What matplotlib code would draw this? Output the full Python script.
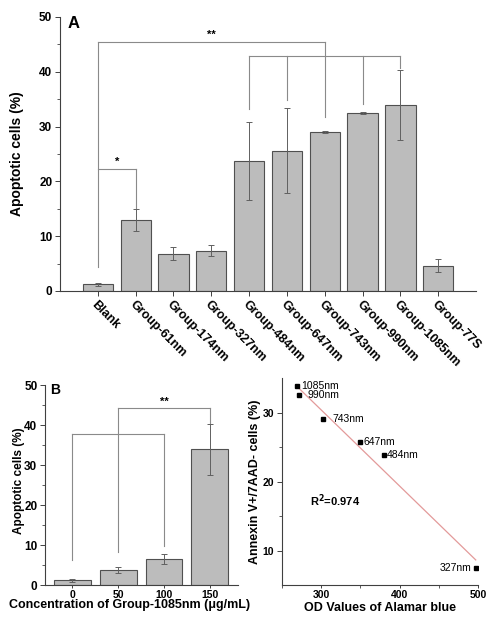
import matplotlib
matplotlib.use('Agg')
import matplotlib.pyplot as plt
import numpy as np
from matplotlib.ticker import MultipleLocator, FixedLocator

plt.rcParams['font.family'] = ['Liberation Sans', 'DejaVu Sans']
plt.rcParams['font.weight'] = 'bold'
plt.rcParams['axes.labelweight'] = 'bold'

# ---------------- data ----------------
groups = ['Blank', 'Group-61nm', 'Group-174nm', 'Group-327nm', 'Group-484nm',
          'Group-647nm', 'Group-743nm', 'Group-990nm', 'Group-1085nm', 'Group-77S']
a_vals = [1.2, 13.0, 6.8, 7.3, 23.7, 25.6, 29.0, 32.5, 33.9, 4.6]
a_err = [0.3, 2.0, 1.2, 1.0, 7.1, 7.7, 0.2, 0.2, 6.4, 1.2]

conc = [0, 50, 100, 150]
conc_labels = ['0', '50', '100', '150']
b_vals = [1.2, 3.7, 6.5, 33.9]
b_err = [0.4, 0.8, 1.2, 6.4]

od_vals = [269, 272, 303, 350, 380, 497]
annexin = [33.9, 32.5, 29.1, 25.7, 23.8, 7.4]
size_labels = ['1085nm', '990nm', '743nm', '647nm', '484nm', '327nm']
r2_text = 'R$^\\mathbf{2}$=0.974'

# significance brackets: (x positions, drop-end y values, top y, star text)
a_brackets = [
    ([1, 7], [4.4, 31.8], 45.4, '**'),
    ([1, 2], [22.2, 15.1], 22.2, '*'),
    ([5, 6, 7, 8, 9], [33.2, 34.9, 42.9, 34.2, 40.6], 42.9, ''),
]
b_brackets = [
    ([0, 100], [6.2, 9.8], 37.7, ''),
    ([50, 150], [8.3, 40.4], 44.2, '**'),
]

bar_face = '#bcbcbc'
bar_edge = '#505050'
err_col = '#606060'
brk_col = '#8a8a8a'
spine_col = '#404040'


def style_axes(ax, xfs, yfs, xlen=3.5, xpad=2):
    for s in ['top', 'right']:
        ax.spines[s].set_visible(False)
    for s in ['left', 'bottom']:
        ax.spines[s].set_color(spine_col)
        ax.spines[s].set_linewidth(0.8)
    ax.tick_params(axis='both', which='major', direction='out', length=3.5,
                   width=0.7, color=spine_col, pad=2)
    ax.tick_params(axis='both', which='minor', direction='out', length=2,
                   width=0.6, color=spine_col)
    ax.tick_params(axis='x', which='major', length=xlen, pad=xpad)
    ax.tick_params(axis='x', labelsize=xfs)
    ax.tick_params(axis='y', labelsize=yfs)


def draw_brackets(ax, brackets):
    for xs, drops, top, star in brackets:
        ax.plot([min(xs), max(xs)], [top, top], color=brk_col, lw=0.8)
        for x, d in zip(xs, drops):
            ax.plot([x, x], [d, top], color=brk_col, lw=0.8)
        if star:
            ax.text((min(xs) + max(xs)) / 2, top + 0.4, star, ha='center',
                    va='bottom', fontsize=8, fontweight='bold')


fig = plt.figure(figsize=(4.98, 6.24), dpi=100)

# ---------------- panel A ----------------
axA = fig.add_axes([0.1205, 0.5337, 0.8355, 0.4391])
xa = np.arange(1, len(groups) + 1)
axA.bar(xa, a_vals, width=0.8, color=bar_face, edgecolor=bar_edge, linewidth=0.8,
        zorder=2)
axA.errorbar(xa, a_vals, yerr=a_err, fmt='none', ecolor=err_col, elinewidth=0.7,
             capsize=2, capthick=0.7, zorder=3)
draw_brackets(axA, a_brackets)
axA.set_xlim(0, 11)
axA.set_ylim(0, 50)
axA.yaxis.set_major_locator(MultipleLocator(10))
axA.yaxis.set_minor_locator(MultipleLocator(5))
axA.set_xticks(xa)
axA.set_xticklabels(groups, rotation=-45, ha='left', va='top',
                    rotation_mode='anchor')
style_axes(axA, 9, 8.5)
axA.set_ylabel('Apoptotic cells (%)', fontsize=10, fontweight='bold')
axA.yaxis.set_label_coords(-0.087, 0.5)
axA.text(0.017, 0.978, 'A', transform=axA.transAxes, fontsize=12,
         fontweight='bold', ha='left', va='center')

# ---------------- panel B ----------------
axB = fig.add_axes([0.0904, 0.0625, 0.3876, 0.3205])
axB.bar(conc, b_vals, width=40, color=bar_face, edgecolor=bar_edge, linewidth=0.8,
        zorder=2)
axB.errorbar(conc, b_vals, yerr=b_err, fmt='none', ecolor=err_col, elinewidth=0.7,
             capsize=2, capthick=0.7, zorder=3)
draw_brackets(axB, b_brackets)
axB.set_xlim(-30, 181)
axB.set_ylim(0, 50)
axB.set_xticks(conc)
axB.set_xticklabels(conc_labels)
axB.yaxis.set_major_locator(MultipleLocator(10))
axB.yaxis.set_minor_locator(MultipleLocator(5))
style_axes(axB, 7.5, 8.5, xlen=2.5, xpad=1)
axB.set_ylabel('Apoptotic cells (%)', fontsize=8.5, fontweight='bold')
axB.yaxis.set_label_coords(-0.104, 0.52)
axB.set_xlabel('Concentration of Group-1085nm (\u03bcg/mL)', fontsize=9,
               fontweight='bold')
axB.xaxis.set_label_coords(0.44, -0.072)
axB.text(0.026, 0.975, 'B', transform=axB.transAxes, fontsize=10,
         fontweight='bold', ha='left', va='center')

# ---------------- panel C ----------------
axC = fig.add_axes([0.566, 0.0625, 0.394, 0.3317])
coef = np.polyfit(od_vals, annexin, 1)
xl = np.array([min(od_vals), max(od_vals)])
axC.plot(xl, np.polyval(coef, xl), color='#e39a9a', lw=0.9, zorder=2)
axC.plot(od_vals, annexin, 's', color='black', markersize=3, zorder=3)
offsets = [(3.5, 0, 'left'), (6, 0, 'left'), (6.5, 0, 'left'),
           (2, 0, 'left'), (2, 0, 'left'), (-3, 0, 'right')]
for x, y, lab, (dx, dy, ha) in zip(od_vals, annexin, size_labels, offsets):
    axC.annotate(lab, (x, y), xytext=(dx, dy), textcoords='offset points',
                 ha=ha, va='center', fontsize=7.5, fontweight='normal')
axC.text(286, 17.2, r2_text, fontsize=8, fontweight='bold', ha='left',
         va='center')
axC.set_xlim(250, 500)
axC.set_ylim(5, 35)
axC.xaxis.set_major_locator(FixedLocator([300, 400, 500]))
axC.xaxis.set_minor_locator(FixedLocator([250, 350, 450]))
axC.yaxis.set_major_locator(FixedLocator([10, 20, 30]))
axC.yaxis.set_minor_locator(FixedLocator([15, 25]))
style_axes(axC, 7.5, 7.5, xlen=2.5, xpad=1)
axC.set_ylabel('Annexin V+/7AAD- cells (%)', fontsize=9, fontweight='bold')
axC.yaxis.set_label_coords(-0.107, 0.5)
axC.set_xlabel('OD Values of Alamar blue', fontsize=9, fontweight='bold')
axC.xaxis.set_label_coords(0.5, -0.082)

fig.savefig('out.png', dpi=100)
